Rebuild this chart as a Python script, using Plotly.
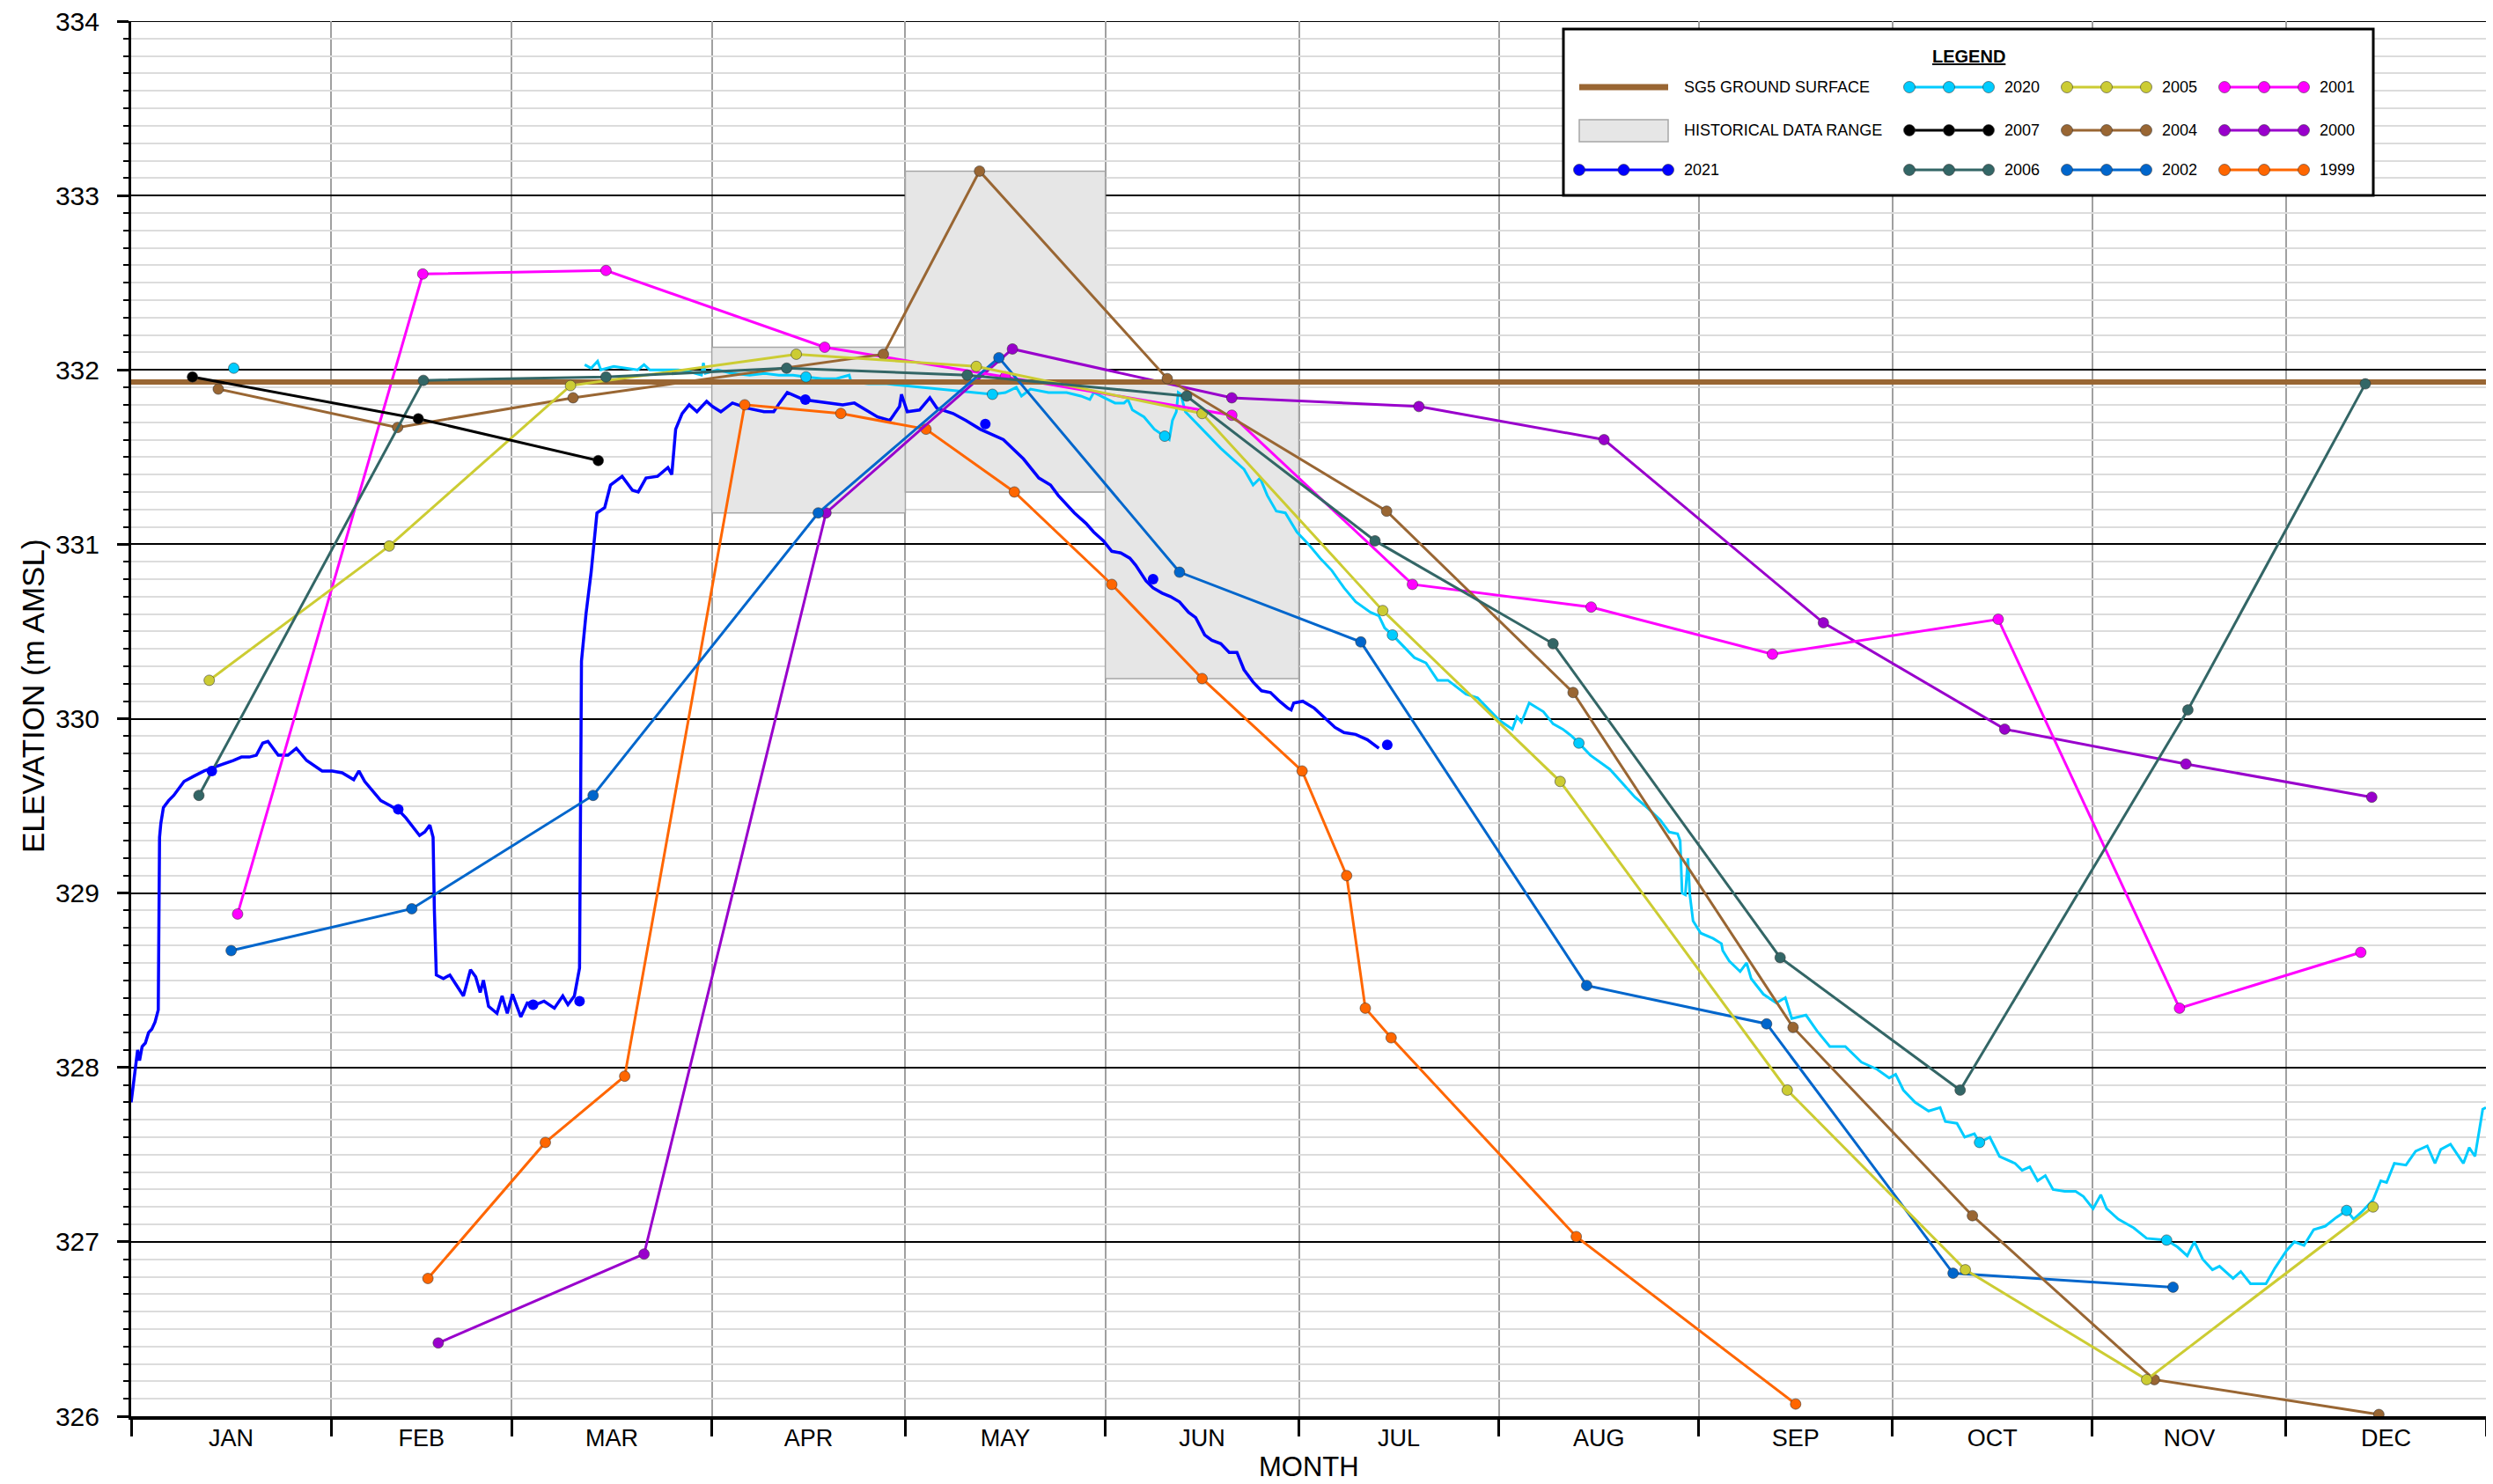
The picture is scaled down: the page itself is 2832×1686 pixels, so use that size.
import plotly.graph_objects as go

# ---------------- DATA ----------------
MONTH_LABELS = ["JAN", "FEB", "MAR", "APR", "MAY", "JUN", "JUL", "AUG", "SEP", "OCT", "NOV", "DEC"]
MONTH_STARTS = [0, 31, 59, 90, 120, 151, 181, 212, 243, 273, 304, 334, 365]

GROUND_SURFACE = 331.93

HIST_X0 = [90, 120, 151]
HIST_X1 = [120, 151, 181]
HIST_LOW = [331.18, 331.30, 330.23]
HIST_HIGH = [332.13, 333.14, 331.92]

D2007 = [9.5, 44.5, 72.4]
V2007 = [331.96, 331.72, 331.48]

D2006 = [10.5, 45.3, 73.6, 101.6, 129.6, 163.6, 192.8, 220.4, 255.6, 283.5, 318.8, 346.3]
V2006 = [329.56, 331.94, 331.96, 332.01, 331.97, 331.85, 331.02, 330.43, 328.63, 327.87, 330.05, 331.92]

D2005 = [12.1, 40.0, 68.1, 103.1, 131.0, 166.0, 194.0, 221.5, 256.7, 284.3, 312.4, 347.5]
V2005 = [330.22, 330.99, 331.91, 332.09, 332.02, 331.75, 330.62, 329.64, 327.87, 326.84, 326.21, 327.20]

D2004 = [13.5, 41.3, 68.5, 116.6, 131.5, 160.6, 194.6, 223.5, 257.6, 285.4, 313.6, 348.4]
V2004 = [331.89, 331.67, 331.84, 332.09, 333.14, 331.95, 331.19, 330.15, 328.23, 327.15, 326.21, 326.01]

D2002 = [15.5, 43.5, 71.6, 106.5, 134.5, 162.5, 190.6, 225.6, 253.5, 282.4, 316.5]
V2002 = [328.67, 328.91, 329.56, 331.18, 332.07, 330.84, 330.44, 328.47, 328.25, 326.82, 326.74]

D2001 = [16.5, 45.2, 73.6, 107.5, 135.5, 170.6, 198.6, 226.3, 254.4, 289.4, 317.5, 345.6]
V2001 = [328.88, 332.55, 332.57, 332.13, 331.96, 331.74, 330.77, 330.64, 330.37, 330.57, 328.34, 328.66]

D2000 = [47.6, 79.5, 107.7, 136.6, 170.6, 199.6, 228.3, 262.3, 290.4, 318.5, 347.3]
V2000 = [326.42, 326.93, 331.18, 332.12, 331.84, 331.79, 331.60, 330.55, 329.94, 329.74, 329.55]

D1999 = [46.0, 64.2, 76.5, 95.1, 110.0, 123.2, 136.9, 152.0, 166.0, 181.5, 188.4, 191.3, 195.3, 224.0, 258.0]
V1999 = [326.79, 327.57, 327.95, 331.80, 331.75, 331.66, 331.30, 330.77, 330.23, 329.70, 329.10, 328.34, 328.17, 327.03, 326.07]

# 2020 manual readings and logger record
D2020_PTS = [15.9, 104.6, 133.5, 160.2, 195.5, 224.4, 286.5, 315.5, 343.4]
V2020_PTS = [332.01, 331.96, 331.86, 331.62, 330.48, 329.86, 327.57, 327.01, 327.18]

D2020_LOG = [70.3, 71.3, 72.3, 72.8, 74.8, 77.0, 78.5, 79.5, 80.4, 82.6, 84.8, 86.5, 88.4, 88.7, 89.0,
             90.9, 93.2, 95.9, 98.2, 100.4, 102.6, 104.6, 107.1, 109.3, 111.3, 111.6, 114.3, 117.1,
             119.9, 122.7, 125.5, 128.3, 130.5, 133.5, 135.5, 137.2, 138.0, 139.4, 142.2, 145.0,
             147.2, 148.6, 149.2, 150.9, 152.5, 153.9, 154.5, 155.2, 157.0, 158.6, 160.2, 160.9,
             161.4, 162.0, 162.3, 162.7, 163.4, 165.2, 167.0, 168.9, 170.7, 172.5, 173.9, 175.0,
             176.1, 177.5, 178.9, 180.7, 182.5, 184.3, 186.1, 188.0, 189.8, 192.1, 193.4, 194.3,
             195.5, 197.1, 198.9, 200.7, 202.5, 204.1, 205.5, 206.9, 208.7, 210.5, 212.1, 214.1,
             214.8, 215.5, 216.7, 218.9, 220.4, 221.9, 223.3, 224.4, 226.2, 229.2, 231.1, 233.1,
             235.0, 237.0, 238.4, 239.7, 240.1, 240.4, 240.9, 241.3, 241.6, 242.1, 243.3, 245.2,
             246.5, 246.7, 247.7, 249.4, 250.4, 251.1, 253.0, 255.0, 256.4, 257.4, 259.6, 261.3,
             263.3, 265.7, 268.2, 270.6, 272.5, 273.5, 274.7, 276.5, 278.6, 280.4, 281.2, 283.0,
             284.2, 285.7, 286.5, 288.1, 289.6, 292.0, 293.1, 294.3, 295.5, 296.7, 297.9, 299.7,
             301.4, 302.6, 304.1, 305.3, 306.2, 308.0, 310.4, 312.4, 315.5, 317.2, 318.7, 319.8,
             321.1, 322.6, 323.7, 325.8, 327.0, 328.5, 330.9, 332.3, 334.1, 335.3, 336.8, 338.3,
             340.1, 341.8, 343.4, 344.5, 345.7, 347.5, 348.7, 349.6, 350.8, 352.6, 354.1, 355.9,
             357.1, 358.0, 359.5, 361.5, 362.4, 363.3, 364.5, 365.0]
V2020_LOG = [332.03, 332.01, 332.05, 332.00, 332.02, 332.01, 332.00, 332.03, 332.00, 332.00, 332.00,
             331.99, 331.97, 332.04, 331.98, 332.00, 331.98, 331.97, 331.98, 331.97, 331.97, 331.96,
             331.95, 331.95, 331.97, 331.93, 331.92, 331.92, 331.91, 331.90, 331.89, 331.88, 331.87,
             331.86, 331.87, 331.90, 331.85, 331.89, 331.87, 331.87, 331.85, 331.83, 331.87, 331.84,
             331.81, 331.81, 331.83, 331.77, 331.73, 331.66, 331.62, 331.60, 331.71, 331.76, 331.87,
             331.86, 331.76, 331.69, 331.62, 331.55, 331.49, 331.43, 331.34, 331.38, 331.28, 331.19,
             331.18, 331.07, 331.00, 330.92, 330.85, 330.75, 330.67, 330.61, 330.59, 330.52, 330.48,
             330.42, 330.35, 330.32, 330.22, 330.22, 330.18, 330.14, 330.12, 330.05, 329.99, 329.94,
             330.01, 329.98, 330.09, 330.04, 329.97, 329.94, 329.90, 329.86, 329.79, 329.71, 329.63,
             329.55, 329.49, 329.42, 329.35, 329.34, 329.30, 329.00, 328.99, 329.20, 328.99, 328.84,
             328.77, 328.74, 328.71, 328.67, 328.61, 328.55, 328.60, 328.51, 328.42, 328.37, 328.40,
             328.28, 328.30, 328.21, 328.12, 328.12, 328.03, 327.99, 327.94, 327.96, 327.87, 327.80,
             327.75, 327.77, 327.69, 327.68, 327.60, 327.62, 327.57, 327.60, 327.49, 327.45, 327.41,
             327.43, 327.35, 327.38, 327.30, 327.29, 327.29, 327.26, 327.19, 327.27, 327.19, 327.13,
             327.08, 327.02, 327.01, 326.97, 326.92, 327.00, 326.90, 326.84, 326.86, 326.79, 326.83,
             326.76, 326.76, 326.85, 326.95, 327.00, 326.98, 327.07, 327.09, 327.14, 327.18, 327.13,
             327.17, 327.24, 327.35, 327.34, 327.45, 327.44, 327.52, 327.55, 327.45, 327.53, 327.56,
             327.45, 327.54, 327.49, 327.76, 327.77]

# 2021 manual readings and logger record
D2021_PTS = [12.5, 41.4, 62.3, 69.5, 104.5, 132.4, 158.4, 194.7]
V2021_PTS = [329.70, 329.48, 328.36, 328.38, 331.83, 331.69, 330.80, 329.85]

D2021_LOG = [0.0, 0.5, 1.0, 1.3, 1.7, 2.2, 2.7, 3.2, 3.7, 4.2, 4.4, 4.6, 5.0, 5.8, 6.6, 7.4, 8.2, 9.7,
             11.3, 12.8, 14.4, 15.8, 17.1, 18.3, 19.4, 20.4, 21.2, 22.0, 22.8, 24.3, 25.6, 27.2, 28.4,
             29.6, 31.2, 32.7, 34.5, 35.3, 36.2, 37.1, 38.7, 40.2, 41.6, 42.6, 43.7, 44.7, 45.5, 46.3,
             46.8, 47.0, 47.3, 48.4, 49.4, 50.4, 51.5, 52.6, 53.4, 54.1, 54.6, 55.4, 56.7, 57.5, 58.3,
             59.1, 60.4, 61.4, 62.7, 64.0, 65.6, 66.9, 67.7, 68.7, 69.5, 69.8, 70.5, 71.3, 72.2, 73.4,
             74.3, 76.1, 77.7, 78.6, 79.8, 81.6, 83.2, 83.8, 84.4, 85.4, 86.5, 87.7, 89.2, 90.1, 91.4,
             93.2, 95.6, 98.1, 99.6, 100.5, 101.7, 104.2, 107.8, 110.3, 112.1, 113.9, 115.7, 117.6,
             119.1, 119.4, 120.3, 122.2, 123.8, 124.9, 127.4, 129.4, 131.6, 135.2, 138.3, 140.7,
             142.5, 143.7, 146.2, 148.0, 149.2, 150.7, 152.0, 153.4, 154.8, 155.7, 157.3, 158.4,
             159.8, 161.1, 162.5, 163.9, 165.0, 166.4, 167.5, 168.9, 170.2, 171.4, 172.5, 173.9,
             175.2, 176.6, 178.0, 179.3, 179.8, 180.2, 181.6, 183.4, 184.8, 186.6, 188.0, 189.8,
             191.6, 193.4]
V2021_LOG = [327.80, 327.97, 328.10, 328.04, 328.12, 328.14, 328.20, 328.22, 328.26, 328.33, 329.32,
             329.40, 329.49, 329.53, 329.56, 329.60, 329.64, 329.67, 329.70, 329.72, 329.74, 329.76,
             329.78, 329.78, 329.79, 329.86, 329.87, 329.83, 329.79, 329.79, 329.83, 329.76, 329.73,
             329.70, 329.70, 329.69, 329.65, 329.70, 329.64, 329.60, 329.53, 329.50, 329.47, 329.43,
             329.38, 329.33, 329.35, 329.39, 329.32, 328.90, 328.53, 328.51, 328.53, 328.47, 328.41,
             328.56, 328.52, 328.43, 328.50, 328.35, 328.31, 328.41, 328.31, 328.42, 328.29, 328.37,
             328.36, 328.38, 328.34, 328.41, 328.36, 328.41, 328.57, 330.33, 330.60, 330.84, 331.18,
             331.21, 331.34, 331.39, 331.31, 331.30, 331.38, 331.39, 331.44, 331.40, 331.66, 331.75,
             331.80, 331.76, 331.82, 331.79, 331.76, 331.81, 331.78, 331.76, 331.76, 331.81, 331.87,
             331.83, 331.81, 331.80, 331.81, 331.77, 331.73, 331.71, 331.79, 331.86, 331.76, 331.77,
             331.84, 331.78, 331.75, 331.71, 331.66, 331.60, 331.49, 331.38, 331.34, 331.28, 331.18,
             331.12, 331.07, 331.02, 330.96, 330.95, 330.92, 330.88, 330.79, 330.75, 330.72, 330.70,
             330.67, 330.61, 330.58, 330.48, 330.45, 330.43, 330.38, 330.38, 330.28, 330.21, 330.16,
             330.15, 330.10, 330.06, 330.05, 330.09, 330.10, 330.06, 330.01, 329.95, 329.92, 329.91,
             329.88, 329.83]

COLORS = {
    "2021": "#0000ff", "2020": "#00ccff", "2007": "#000000", "2006": "#336666",
    "2005": "#cccc33", "2004": "#996633", "2002": "#0066cc", "2001": "#ff00ff",
    "2000": "#9900cc", "1999": "#ff6600", "ground": "#996633",
}

# ---------------- LAYOUT CONSTANTS (window pixels) ----------------
OFF = 8                       # page body margin offset of the figure div
WIN_W, WIN_H = 2832, 1686
W, H = WIN_W - OFF, WIN_H - OFF
PL, PR, PT, PB = 149, 2824, 24, 1609   # plot area in window pixels
X_MIN, X_MAX = 0, 365
Y_MIN, Y_MAX = 326, 334
FONT = "Liberation Sans, Arial, sans-serif"


def px_x(px):
    return X_MIN + (px - PL) / (PR - PL) * (X_MAX - X_MIN)


def px_y(py):
    return Y_MAX - (py - PT) / (PB - PT) * (Y_MAX - Y_MIN)


fig = go.Figure()

LINE_W = 3
MK = 12
MK_LINE = dict(width=1, color="rgba(50,50,50,0.55)")


def add_hist(name, d, v):
    fig.add_trace(go.Scatter(
        x=d, y=v, mode="lines+markers", name=name, showlegend=False,
        line=dict(color=COLORS[name], width=LINE_W),
        marker=dict(size=MK, color=COLORS[name], line=MK_LINE)))


# logger records (bottom)
fig.add_trace(go.Scatter(x=D2020_LOG, y=V2020_LOG, mode="lines", showlegend=False,
                         line=dict(color=COLORS["2020"], width=3)))
fig.add_trace(go.Scatter(x=D2021_LOG, y=V2021_LOG, mode="lines", showlegend=False,
                         line=dict(color=COLORS["2021"], width=3.5)))

add_hist("1999", D1999, V1999)
add_hist("2000", D2000, V2000)
add_hist("2001", D2001, V2001)

# ground surface
fig.add_trace(go.Scatter(x=[X_MIN, X_MAX], y=[GROUND_SURFACE, GROUND_SURFACE], mode="lines",
                         showlegend=False, line=dict(color=COLORS["ground"], width=6)))

add_hist("2002", D2002, V2002)
add_hist("2004", D2004, V2004)
add_hist("2005", D2005, V2005)
add_hist("2006", D2006, V2006)
add_hist("2007", D2007, V2007)

# manual readings on top
fig.add_trace(go.Scatter(x=D2020_PTS, y=V2020_PTS, mode="markers", showlegend=False,
                         marker=dict(size=MK, color=COLORS["2020"], line=MK_LINE)))
fig.add_trace(go.Scatter(x=D2021_PTS, y=V2021_PTS, mode="markers", showlegend=False,
                         marker=dict(size=MK, color=COLORS["2021"], line=dict(width=0))))

shapes = []
# top border line of the plot at the axis maximum
shapes.append(dict(type="line", xref="paper", yref="y", x0=0, x1=1, y0=Y_MAX, y1=Y_MAX,
                   layer="between", line=dict(color="black", width=2)))
for x0, x1, lo, hi in zip(HIST_X0, HIST_X1, HIST_LOW, HIST_HIGH):
    shapes.append(dict(type="rect", xref="x", yref="y", x0=x0, x1=x1, y0=lo, y1=hi,
                       layer="between", fillcolor="#e6e6e6",
                       line=dict(color="#a6a6a6", width=1.5)))

# ---------------- custom legend ----------------
LEG_BOX = (1776, 33, 2696, 222)
shapes.append(dict(type="rect", xref="x", yref="y", layer="above",
                   x0=px_x(LEG_BOX[0]), x1=px_x(LEG_BOX[2]),
                   y0=px_y(LEG_BOX[3]), y1=px_y(LEG_BOX[1]),
                   fillcolor="white", line=dict(color="black", width=3)))

COL_X0 = [1794, 2169, 2348, 2527]
COL_X1 = [1895, 2259, 2438, 2617]
ROW_Y = [99, 148, 193]
LEGEND_ITEMS = [
    ("SG5 GROUND SURFACE", "ground", 0, 0),
    ("HISTORICAL DATA RANGE", "range", 0, 1),
    ("2021", "2021", 0, 2),
    ("2020", "2020", 1, 0),
    ("2007", "2007", 1, 1),
    ("2006", "2006", 1, 2),
    ("2005", "2005", 2, 0),
    ("2004", "2004", 2, 1),
    ("2002", "2002", 2, 2),
    ("2001", "2001", 3, 0),
    ("2000", "2000", 3, 1),
    ("1999", "1999", 3, 2),
]

annotations = []
R = 6.5
for label, key, c, r in LEGEND_ITEMS:
    x0, x1, y = COL_X0[c], COL_X1[c], ROW_Y[r]
    if key == "ground":
        shapes.append(dict(type="line", xref="x", yref="y", layer="above",
                           x0=px_x(x0), x1=px_x(x1), y0=px_y(y), y1=px_y(y),
                           line=dict(color=COLORS["ground"], width=7)))
    elif key == "range":
        shapes.append(dict(type="rect", xref="x", yref="y", layer="above",
                           x0=px_x(x0), x1=px_x(x1), y0=px_y(y + 13), y1=px_y(y - 12),
                           fillcolor="#e6e6e6", line=dict(color="#a6a6a6", width=1.5)))
    else:
        col = COLORS[key]
        shapes.append(dict(type="line", xref="x", yref="y", layer="above",
                           x0=px_x(x0), x1=px_x(x1), y0=px_y(y), y1=px_y(y),
                           line=dict(color=col, width=3)))
        for mx in (x0, (x0 + x1) / 2, x1):
            shapes.append(dict(type="circle", xref="x", yref="y", layer="above",
                               x0=px_x(mx - R), x1=px_x(mx + R), y0=px_y(y + R), y1=px_y(y - R),
                               fillcolor=col, line=dict(color="rgba(50,50,50,0.55)", width=1)))
    annotations.append(dict(xref="x", yref="y", x=px_x(x1 + 16), y=px_y(y), text=label,
                            showarrow=False, xanchor="left", yanchor="middle",
                            font=dict(family=FONT, size=18, color="black")))

annotations.append(dict(xref="x", yref="y", x=px_x(2236), y=px_y(64), text="<b><u>LEGEND</u></b>",
                        showarrow=False, xanchor="center", yanchor="middle",
                        font=dict(family=FONT, size=20, color="black")))

# axis titles
annotations.append(dict(xref="paper", yref="paper", x=(37 - PL) / (PR - PL), y=(PB - 791) / (PB - PT),
                        text="ELEVATION (m AMSL)", textangle=-90, showarrow=False,
                        xanchor="center", yanchor="middle",
                        font=dict(family=FONT, size=35, color="black")))
annotations.append(dict(xref="paper", yref="paper", x=0.5, y=(PB - 1667) / (PB - PT),
                        text="MONTH", showarrow=False, xanchor="center", yanchor="middle",
                        font=dict(family=FONT, size=31, color="black")))

mid_months = [(a + b) / 2 for a, b in zip(MONTH_STARTS[:-1], MONTH_STARTS[1:])]
y_ticks = list(range(Y_MIN, Y_MAX + 1))

fig.update_layout(
    width=W, height=H,
    margin=dict(l=PL - OFF, r=WIN_W - PR, t=PT - OFF, b=WIN_H - PB, pad=0, autoexpand=False),
    paper_bgcolor="white", plot_bgcolor="white",
    font=dict(family=FONT, color="black"),
    showlegend=False,
    shapes=shapes, annotations=annotations,
    xaxis=dict(
        range=[X_MIN, X_MAX], tickmode="array", tickvals=mid_months, ticktext=MONTH_LABELS,
        ticks="", ticklabelstandoff=-2, ticklabeloverflow="allow",
        tickfont=dict(family=FONT, size=27, color="black"),
        showgrid=False, zeroline=False, automargin=False,
        showline=True, linecolor="black", linewidth=4,
        minor=dict(tickmode="array", tickvals=MONTH_STARTS, ticks="outside", ticklen=19,
                   tickwidth=2.5, tickcolor="black", showgrid=True, gridcolor="#a0a0a0", gridwidth=2),
    ),
    yaxis=dict(
        range=[Y_MIN, Y_MAX], tickmode="array", tickvals=y_ticks, ticktext=[str(v) for v in y_ticks],
        ticks="outside", ticklen=13, tickwidth=2.5, tickcolor="black",
        tickfont=dict(family=FONT, size=30, color="black"), ticklabelstandoff=14,
        ticklabeloverflow="allow",
        showgrid=True, gridcolor="black", gridwidth=2, zeroline=False, automargin=False,
        showline=True, linecolor="black", linewidth=3,
        minor=dict(tick0=Y_MIN, dtick=0.1, ticks="outside", ticklen=6, tickwidth=2, tickcolor="black",
                   showgrid=True, gridcolor="#dcdcdc", gridwidth=2),
    ),
)

fig.write_html("out.html")
